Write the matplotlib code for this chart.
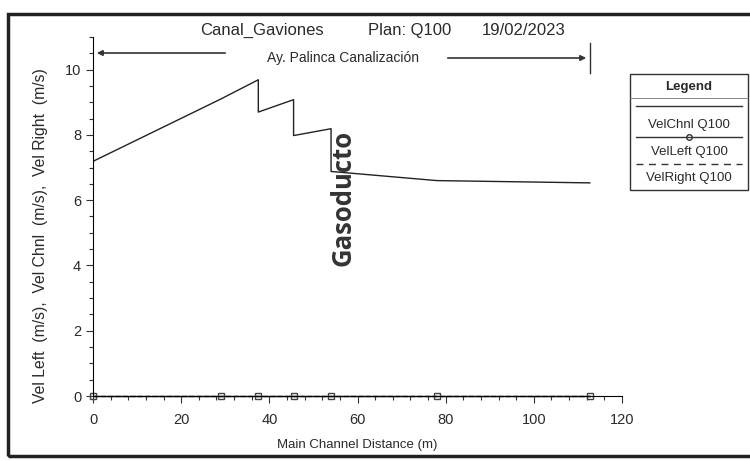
import numpy as np
import matplotlib.pyplot as plt
from matplotlib.ticker import MultipleLocator
from matplotlib.patches import Rectangle, FancyArrowPatch
from matplotlib.lines import Line2D

# datos (HEC-RAS, perfil de velocidades)
dist = [0, 29, 37.5, 37.5, 45.5, 45.5, 54, 54, 78, 112.7]
vel_chnl = [7.19, 9.1, 9.69, 8.70, 9.08, 7.98, 8.19, 6.88, 6.6, 6.53]
vel_right = [0, 0, 0, 0, 0, 0, 0, 0, 0, 0]
stations = [0, 29, 37.5, 45.5, 54, 78, 112.7]
vel_left = [0, 0, 0, 0, 0, 0, 0]

plt.rcParams['font.family'] = ['Liberation Sans', 'DejaVu Sans']
txt = '#2a2a2a'

fig = plt.figure(figsize=(7.5, 4.61), dpi=100)

def fx(p):
    return p/750
def fy(p):
    return 1 - p/461

# marco exterior
fig.patches.append(Rectangle((fx(8), fy(456)), 760/750, 442/461, transform=fig.transFigure,
                             fill=False, lw=2.5, ec='#222222'))

ax = fig.add_axes([fx(93), fy(396), 529/750, (396-37)/461])
ax.plot(dist, vel_chnl, color='#222222', lw=1.0)
ax.plot(dist, vel_right, color='#222222', lw=1.0, ls='--', clip_on=False)
ax.plot(stations, vel_left, color='#333333', lw=1.0, marker='s', ms=4,
        mfc='none', mec='#444444', clip_on=False)

ax.set_xlim(0, 120)
ax.set_ylim(0, 11)
ax.xaxis.set_major_locator(MultipleLocator(20))
ax.xaxis.set_minor_locator(MultipleLocator(4))
ax.yaxis.set_major_locator(MultipleLocator(2))
ax.yaxis.set_minor_locator(MultipleLocator(0.5))
ax.tick_params(which='major', length=5, width=0.8, colors='#333333', labelsize=10.5, labelcolor=txt)
ax.tick_params(axis='x', which='major', pad=7)
ax.tick_params(which='minor', length=3, width=0.8, colors='#333333')
ax.spines['top'].set_visible(False)
ax.spines['right'].set_visible(False)
ax.set_xlabel('Main Channel Distance (m)', fontsize=9.5, color=txt, labelpad=9)
ax.set_ylabel('Vel Left  (m/s),  Vel Chnl  (m/s),  Vel Right  (m/s)', fontsize=11.3, color=txt)
ax.yaxis.set_label_coords(-0.085, 0.448)

fig.text(fx(343), fy(198), 'Gasoducto', rotation=90, ha='center', va='center',
         fontsize=18.5, fontweight='bold', family='Open Sans', color='#333333')

# titulo
fig.text(fx(262), fy(35), 'Canal_Gaviones', ha='center', va='baseline', fontsize=12, color=txt)
fig.text(fx(410), fy(35), 'Plan: Q100', ha='center', va='baseline', fontsize=12, color=txt)
fig.text(fx(524), fy(35), '19/02/2023', ha='center', va='baseline', fontsize=12, color=txt)

# marcador del tramo
fig.add_artist(Line2D([fx(590), fx(590)], [fy(43), fy(73)], color='#333333', lw=1))
fig.add_artist(FancyArrowPatch((fx(228), fy(53)), (fx(94), fy(53)), transform=fig.transFigure,
                               arrowstyle='-|>', mutation_scale=8, color='#333333', lw=1.2))
fig.add_artist(FancyArrowPatch((fx(445), fy(58)), (fx(589), fy(58)), transform=fig.transFigure,
                               arrowstyle='-|>', mutation_scale=8, color='#333333', lw=1.2))
fig.text(fx(343), fy(58), 'Ay. Palinca Canalización', ha='center', va='center', fontsize=10, color=txt)

# leyenda
fig.patches.append(Rectangle((fx(630), fy(190)), (748-630)/750, (190-74)/461, transform=fig.transFigure,
                             fill=False, lw=1, ec='#333333'))
fig.text(fx(689), fy(87), 'Legend', ha='center', va='center', fontsize=9.5, fontweight='bold', color=txt)
fig.add_artist(Line2D([fx(630), fx(748)], [fy(98), fy(98)], color='#777777', lw=0.6))
fig.add_artist(Line2D([fx(636), fx(742)], [fy(106), fy(106)], color='#333333', lw=1))
fig.text(fx(689), fy(125), 'VelChnl Q100', ha='center', va='center', fontsize=9.5, color=txt)
fig.add_artist(Line2D([fx(636), fx(689), fx(742)], [fy(137), fy(137), fy(137)], color='#333333', lw=1,
                      marker='o', markevery=[1], ms=4, mfc='none', mec='#333333'))
fig.text(fx(689), fy(152), 'VelLeft Q100', ha='center', va='center', fontsize=9.5, color=txt)
fig.add_artist(Line2D([fx(636), fx(742)], [fy(164), fy(164)], color='#333333', lw=1, ls=(0, (5, 4))))
fig.text(fx(689), fy(178), 'VelRight Q100', ha='center', va='center', fontsize=9.5, color=txt)

plt.savefig('out.png', dpi=100)
